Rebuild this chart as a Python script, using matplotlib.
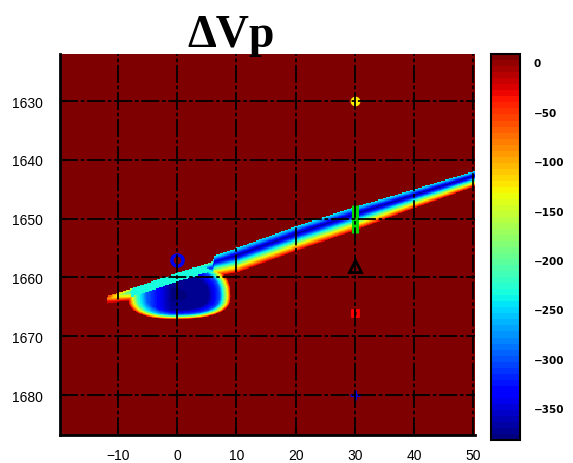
import numpy as np
import matplotlib
matplotlib.use("Agg")
import matplotlib.pyplot as plt

# upper edge of the streak, its width and strength along x
edge_x = [-12.0, -9.0, -6.0, 0.0, 5.8, 6.2, 10.0, 20.0, 30.0, 40.0, 50.5]
edge_top = [1663.3, 1662.3, 1661.3, 1659.2, 1657.4, 1656.3, 1655.0, 1651.3, 1648.0, 1645.0, 1641.8]
band_w = [1.2, 1.8, 2.5, 3.0, 3.2, 3.6, 4.2, 4.2, 4.0, 3.2, 2.6]
band_amp = [0.2, 0.5, 0.8, 0.85, 0.85, 0.95, 1.0, 1.0, 1.0, 1.0, 1.0]

# dVp across the streak (0 = upper edge, 1 = lower edge)
prof_t = [0.0, 0.12, 0.3, 0.45, 0.6, 0.75, 0.9, 1.0]
prof_v = [-240, -280, -370, -300, -220, -140, -70, -20]

# blob under the source
bulb_cx, bulb_cy = -0.5, 1663.2
bulb_ax_left, bulb_ax_right = 8.0, 9.5
bulb_ay_top, bulb_ay_bottom = 6.0, 3.9
bulb_p = 2.5
bulb_r = [0.0, 0.6, 0.8, 0.9, 0.97, 1.0]
bulb_v = [-378, -372, -300, -180, -80, -20]
shade_x = [-9.0, -5.0, -1.0, 10.0]
shade_k = [0.6, 0.8, 1.0, 1.0]
cap_v = -235
cap_h = 1.5

background = 8
vmin, vmax = -382, 8

# stations
src_x, src_y = 0, 1657
sta_x = [30, 30, 30, 30, 30]
sta_y = [1630, 1650, 1658, 1666, 1680]

x = np.arange(-19.8, 50.4, 0.2)
y = np.arange(1622, 1687, 0.2)
X, Y = np.meshgrid(x, y)

top = np.interp(X, edge_x, edge_top)
w = np.interp(X, edge_x, band_w)
amp = np.interp(X, edge_x, band_amp)
t = (Y - top) / w
inside = (t >= 0) & (t <= 1) & (X >= edge_x[0]) & (X <= edge_x[-1])
streak = np.where(inside, np.interp(t, prof_t, prof_v) * amp, background)

dx = X - bulb_cx
dy = Y - bulb_cy
axx = np.where(dx < 0, bulb_ax_left, bulb_ax_right)
ayy = np.where(dy < 0, bulb_ay_top, bulb_ay_bottom)
r = (np.abs(dx / axx) ** bulb_p + np.abs(dy / ayy) ** bulb_p) ** (1 / bulb_p)
in_bulb = (r <= 1) & (Y >= top)
bulb_val = np.interp(r, bulb_r, bulb_v) * np.interp(X, shade_x, shade_k)
bulb = np.where(in_bulb, bulb_val, background)

field = np.minimum(streak, bulb)
cap = in_bulb & (r <= 0.92) & (Y < top + cap_h)
field[cap] = cap_v
field[field > -10] = background

fig = plt.figure(figsize=(5.73, 4.64), dpi=100)
ax = fig.add_axes([0.1047, 0.0603, 0.7243, 0.821])
cmap = plt.get_cmap("jet", 64)
im = ax.imshow(field, cmap=cmap, vmin=vmin, vmax=vmax, origin="lower",
               extent=[x[0], x[-1], y[0], y[-1]], aspect="auto",
               interpolation="nearest")
ax.set_xlim(-19.8, 50.3)
ax.set_ylim(1686.8, 1622)

ax.plot(src_x, src_y, "o", mfc="none", mec="#0000ee", mew=2.5, ms=8)
ax.plot(sta_x[0], sta_y[0], "o", mfc="#ffee00", mec="#ffee00", mew=2, ms=5)
ax.plot(sta_x[1], sta_y[1], "|", color="#00dd00", mew=5, ms=20)
ax.plot(sta_x[2], sta_y[2], "^", mfc="none", mec="black", mew=2, ms=9)
ax.plot(sta_x[3], sta_y[3], "s", mfc="none", mec="red", mew=2, ms=5)
ax.plot(sta_x[4], sta_y[4], "+", color="#0000ee", mew=2, ms=7)

ax.set_xticks([-10, 0, 10, 20, 30, 40, 50])
ax.set_yticks([1630, 1640, 1650, 1660, 1670, 1680])
ax.grid(True, color="black", lw=1.3, linestyle=(0, (10, 1.5, 2, 1.5)))
ax.set_axisbelow(False)
for s in ["top", "right"]:
    ax.spines[s].set_visible(False)
for s in ["left", "bottom"]:
    ax.spines[s].set_linewidth(2)
ax.tick_params(direction="in", length=4, width=1.5)
ax.tick_params(axis="y", pad=12)
ax.tick_params(axis="x", pad=9)
for lab in ax.get_xticklabels() + ax.get_yticklabels():
    lab.set_fontfamily("Liberation Sans")
    lab.set_fontsize(10)

cax = fig.add_axes([0.857, 0.0496, 0.0506, 0.8314])
cb = fig.colorbar(im, cax=cax, ticks=[0, -50, -100, -150, -200, -250, -300, -350])
cb.outline.set_linewidth(1.5)
cax.tick_params(length=0, pad=10)
for lab in cax.get_yticklabels():
    lab.set_fontsize(7.5)
    lab.set_fontweight("bold")

fig.text(0.403, 0.8987, "\u0394Vp", ha="center", va="baseline",
         fontsize=33, fontweight="bold", family="Liberation Serif")

fig.savefig("out.png", dpi=100)
